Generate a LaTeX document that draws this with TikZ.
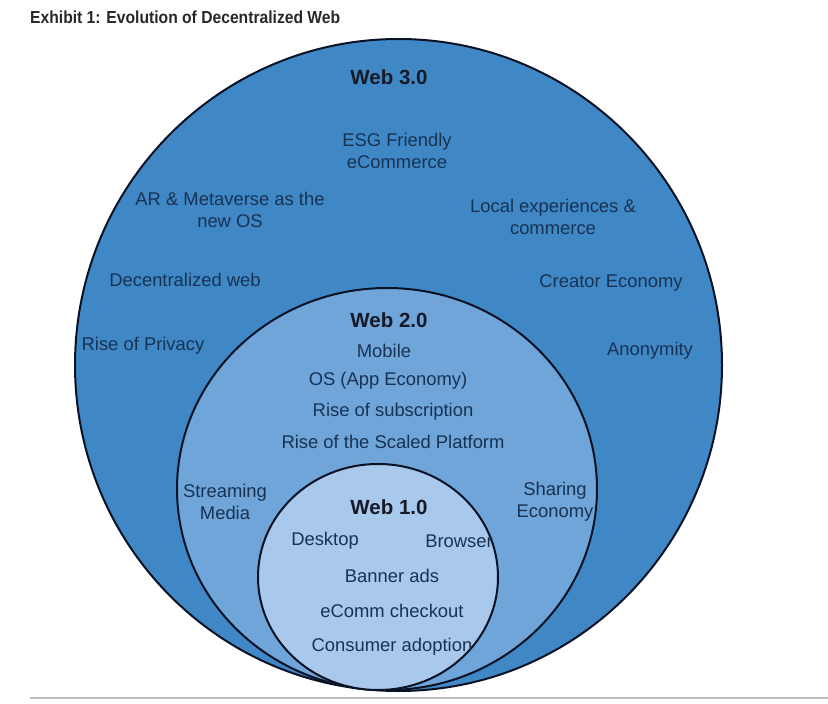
\documentclass[tikz,border=0pt]{standalone}
\usepackage{fontspec}
\setmainfont{Liberation Sans}
\newfontfamily\condfont{Liberation Sans}[FakeStretch=0.9]
\definecolor{outerblue}{RGB}{64,136,197}
\definecolor{midblue}{RGB}{111,165,216}
\definecolor{innerblue}{RGB}{168,200,236}
\definecolor{txtnavy}{RGB}{24,50,84}
\definecolor{headdark}{RGB}{22,26,40}
\definecolor{ringline}{RGB}{10,18,38}
\tikzset{
  ring/.style={draw=ringline, line width=2pt},
  item/.style={text=txtnavy, align=center, inner sep=0pt, font=\fontsize{18.4}{22}\selectfont},
  head/.style={text=headdark, inner sep=0pt, font=\fontsize{20.5}{24}\selectfont\bfseries},
}
\begin{document}
\begin{tikzpicture}[x=1pt,y=-1pt]
\useasboundingbox (0,0) rectangle (828,704);
\fill[white] (0,0) rectangle (828,704);
% title
\node[anchor=west, inner sep=0pt, text={rgb,255:red,40;green,40;blue,44}, font=\condfont\fontsize{17.4}{20}\selectfont\bfseries] (title) at (30,17) {Exhibit 1: Evolution of Decentralized Web};
% rings
\draw[ring, fill=outerblue] (398.5,365) ellipse [x radius=323.5pt, y radius=326pt];
\draw[ring, fill=midblue] (387,489) ellipse [x radius=210pt, y radius=201pt];
\draw[ring, fill=innerblue] (378,577) ellipse [x radius=120pt, y radius=113pt];
% bottom rule
\draw[line width=2pt, draw={rgb,255:red,190;green,190;blue,190}] (30,698) -- (828,698);
% Web 3.0
\node[head] (w3) at (389,77) {Web 3.0};
\node[item] (esg) at (397,151) {ESG Friendly\\eCommerce};
\node[item] (ar) at (230,210) {AR \& Metaverse as the\\new OS};
\node[item] (local) at (553,217) {Local experiences \&\\commerce};
\node[item] (dec) at (185,280) {Decentralized web};
\node[item] (creator) at (611,283) {Creator Economy};
\node[item] (priv) at (143,346) {Rise of Privacy};
\node[item] (anon) at (650,351) {Anonymity};
% Web 2.0
\node[head] (w2) at (389,320) {Web 2.0};
\node[item] (mobile) at (384,351) {Mobile};
\node[item] (os) at (388,381) {OS (App Economy)};
\node[item] (subs) at (393,412) {Rise of subscription};
\node[item] (scaled) at (393,442) {Rise of the Scaled Platform};
\node[item] (stream) at (225,502) {Streaming\\Media};
\node[item] (share) at (555,502) {Sharing\\Economy};
% Web 1.0
\node[head] (w1) at (389,507) {Web 1.0};
\node[item] (desk) at (325,541) {Desktop};
\node[item] (brow) at (459,541) {Browser};
\node[item] (banner) at (392,576) {Banner ads};
\node[item] (ecomm) at (392,611) {eComm checkout};
\node[item] (cons) at (392,647) {Consumer adoption};
\end{tikzpicture}
\end{document}
